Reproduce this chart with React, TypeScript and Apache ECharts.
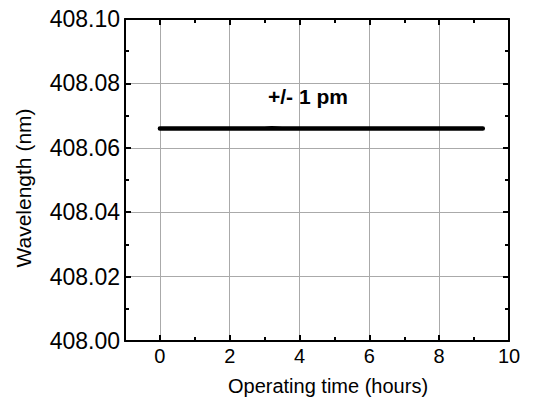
import React, { useEffect, useRef } from "react";
import * as echarts from "echarts";

const hours = [0, 0.5, 1, 1.5, 2, 2.5, 3, 3.2, 3.5, 4, 4.5, 5, 5.5, 6, 6.5, 7, 7.5, 8, 8.5, 9, 9.25];
const wavelength = [
  408.066, 408.066, 408.066, 408.066, 408.066, 408.066, 408.066, 408.0661, 408.066, 408.066,
  408.066, 408.066, 408.066, 408.066, 408.066, 408.066, 408.066, 408.066, 408.066, 408.066, 408.066,
];
const xMajorTicks = [0, 2, 4, 6, 8, 10];
const xMinorTicks = [1, 3, 5, 7, 9];
const annotation = "+/- 1 pm";

const FONT = "Liberation Sans, Arial, sans-serif";

export default function App() {
  const ref = useRef<HTMLDivElement>(null);
  useEffect(() => {
    document.body.style.margin = "0";
    const chart = echarts.init(ref.current!, null, { renderer: "svg" });
    const gridPos = { left: 125, right: 28, top: 19, bottom: 61 };
    const axisLine = { show: true, onZero: false, lineStyle: { color: "#000", width: 2 } };
    const noLabel = { show: false };
    chart.setOption({
      animation: false,
      backgroundColor: "#fff",
      grid: [
        { ...gridPos, containLabel: false },
        { ...gridPos, containLabel: false },
      ],
      xAxis: [
        {
          type: "value", gridIndex: 0, position: "bottom", min: -1, max: 10,
          axisLine,
          axisTick: { show: true, inside: true, length: 6, customValues: xMajorTicks, lineStyle: { color: "#000", width: 2 } },
          axisLabel: { show: true, customValues: xMajorTicks, color: "#000", fontSize: 20, fontFamily: FONT, margin: 5 },
          splitLine: { show: true, lineStyle: { color: "#aaa", width: 1 } },
          name: "Operating time (hours)", nameLocation: "middle", nameGap: 35,
          nameTextStyle: { color: "#000", fontSize: 20, fontFamily: FONT, padding: [0, 0, 0, 22] },
        },
        {
          type: "value", gridIndex: 0, position: "top", min: -1, max: 10,
          axisLine,
          axisTick: { show: true, inside: true, length: 6, customValues: xMajorTicks, lineStyle: { color: "#000", width: 2 } },
          axisLabel: noLabel, splitLine: { show: false },
        },
        {
          type: "value", gridIndex: 1, position: "bottom", min: -1, max: 10,
          axisLine: { show: false },
          axisTick: { show: true, inside: true, length: 4, customValues: xMinorTicks, lineStyle: { color: "#000", width: 2 } },
          axisLabel: noLabel, splitLine: { show: false },
        },
        {
          type: "value", gridIndex: 1, position: "top", min: -1, max: 10,
          axisLine: { show: false },
          axisTick: { show: true, inside: true, length: 4, customValues: xMinorTicks, lineStyle: { color: "#000", width: 2 } },
          axisLabel: noLabel, splitLine: { show: false },
        },
      ],
      yAxis: [
        {
          type: "value", gridIndex: 0, position: "left", min: 408, max: 408.1, interval: 0.02,
          axisLine,
          axisTick: { show: true, inside: true, length: 6, lineStyle: { color: "#000", width: 2 } },
          minorTick: { show: true, splitNumber: 2, length: 4, lineStyle: { color: "#000", width: 2 } },
          axisLabel: { color: "#000", fontSize: 23, fontFamily: FONT, margin: 5, formatter: (v: number) => v.toFixed(2) },
          splitLine: { show: true, lineStyle: { color: "#aaa", width: 1 } },
          name: "Wavelength (nm)", nameLocation: "middle", nameGap: 91,
          nameTextStyle: { color: "#000", fontSize: 21, fontFamily: FONT, padding: [0, 16, 0, 0] },
        },
        {
          type: "value", gridIndex: 0, position: "right", min: 408, max: 408.1, interval: 0.02,
          axisLine,
          axisTick: { show: true, inside: true, length: 6, lineStyle: { color: "#000", width: 2 } },
          minorTick: { show: true, splitNumber: 2, length: 4, lineStyle: { color: "#000", width: 2 } },
          axisLabel: noLabel, splitLine: { show: false },
        },
        {
          type: "value", gridIndex: 1, min: 408, max: 408.1, show: false,
        },
      ],
      graphic: [
        {
          type: "text", left: 268, top: 86,
          style: { text: annotation, fill: "#000", font: `bold 21px ${FONT}` },
        },
      ],
      series: [
        {
          type: "line", xAxisIndex: 0, yAxisIndex: 0,
          data: hours.map((h, i) => [h, wavelength[i]]),
          showSymbol: false, symbol: "none",
          lineStyle: { color: "#000", width: 4.5, cap: "round" },
          z: 5,
        },
      ],
    });
    return () => chart.dispose();
  }, []);
  return <div ref={ref} style={{ width: 537, height: 402 }} />;
}
